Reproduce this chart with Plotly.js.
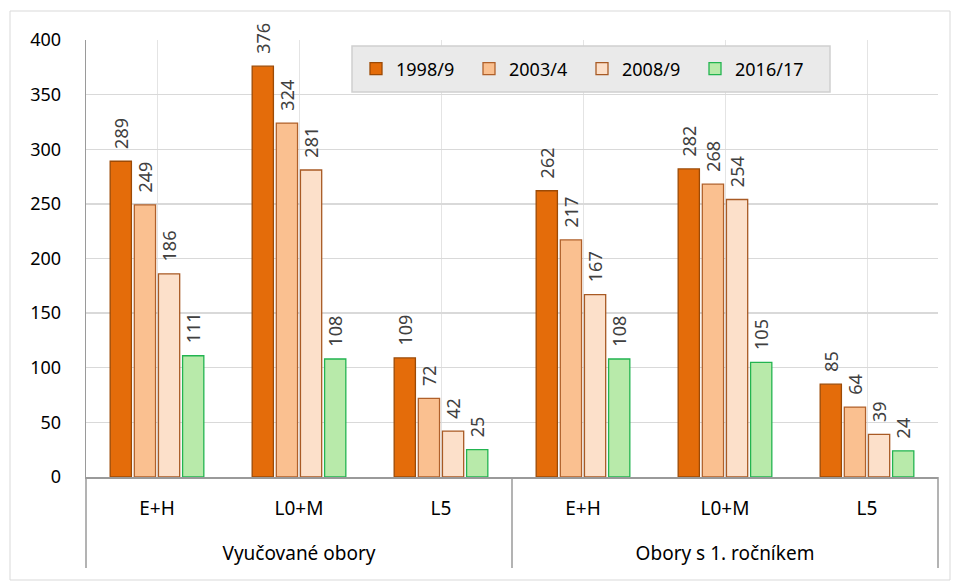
<!DOCTYPE html>
<html>
<head>
<meta charset="utf-8">
<script src="https://cdn.plot.ly/plotly-3.0.1.min.js"></script>
<style>html,body{margin:0;padding:0;background:#fff;}#chart{width:956px;height:582px;}</style>
</head>
<body>
<div id="chart"></div>
<script>
const groups = ["Vyučované obory","Obory s 1. ročníkem"];
const categories = ["E+H","L0+M","L5","E+H","L0+M","L5"];
const seriesNames = ["1998/9","2003/4","2008/9","2016/17"];
const s1998 = [289,376,109,262,282,85];
const s2003 = [249,324,72,217,268,64];
const s2008 = [186,281,42,167,254,39];
const s2016 = [111,108,25,108,105,24];
const fills = ["#E46C0A","#FAC090","#FCE0CA","#B8EAAA"];
const lines = ["#9C4A06","#B0602A","#A85A24","#22B450"];

const xpos = categories.map((c,i)=>i);
const perGroup = categories.length / groups.length;
const groupPos = groups.map((g,i)=>i*perGroup + (perGroup-1)/2);

const values = [s1998,s2003,s2008,s2016];
const traces = values.map((v,i)=>({
  type:'bar',
  name: seriesNames[i],
  x:xpos,
  y:v,
  xaxis:'x',yaxis:'y',
  text:v.map(n=>'\u00a0\u00a0'+n),
  textposition:'outside',
  textangle:-90,
  constraintext:'none',
  cliponaxis:false,
  textfont:{family:'Noto Sans, sans-serif',size:18,color:'#404040'},
  marker:{color:fills[i],line:{color:lines[i],width:1.3}}
}));
// invisible helper trace so the group-label axis is drawn
traces.push({type:'scatter',x:groupPos,y:[0,0],xaxis:'x2',yaxis:'y',
  mode:'markers',marker:{opacity:0},showlegend:false,hoverinfo:'skip'});

const L=86,R=938,T=40,B=477,BOT=568;
const px=(p)=>(p-L)/(R-L);
const py=(p)=>(BOT-p)/(BOT-T);
const d = py(B);

const dividers = [0,0.5,1].map(x=>({type:'line',xref:'paper',yref:'paper',
  x0:x,x1:x,y0:0,y1:d,line:{color:'#9A9A9A',width:1.5}}));

const layout = {
  width:956,height:582,
  margin:{l:L,r:956-R,t:T,b:582-BOT},
  paper_bgcolor:'#fff',plot_bgcolor:'#fff',
  font:{family:'Noto Sans, sans-serif',color:'#000'},
  barmode:'group',
  bargap:0.32,
  bargroupgap:0.12,
  showlegend:true,
  legend:{orientation:'h',x:px(582),xanchor:'center',y:py(69),yanchor:'middle',
    bgcolor:'rgba(0,0,0,0)',borderwidth:0,
    font:{size:18,family:'Noto Sans, sans-serif',color:'#000'},
    entrywidth:68,itemwidth:30,traceorder:'normal'},
  xaxis:{type:'linear',range:[-0.5,categories.length-0.5],anchor:'y',
    tickmode:'array',tickvals:xpos,ticktext:categories,
    showgrid:true,gridcolor:'#E4E4E4',gridwidth:1,zeroline:false,
    showline:true,linecolor:'#9A9A9A',linewidth:1.5,
    ticks:'',ticklabelstandoff:14,
    tickfont:{size:19,family:'Noto Sans, sans-serif',color:'#000'}},
  xaxis2:{type:'linear',range:[-0.5,categories.length-0.5],overlaying:'x',
    anchor:'free',position:0,side:'bottom',
    tickmode:'array',tickvals:groupPos,ticktext:groups,
    showgrid:false,zeroline:false,showline:false,ticks:'',
    ticklabelposition:'inside',ticklabelstandoff:1,
    tickfont:{size:19,family:'Noto Sans, sans-serif',color:'#000'}},
  yaxis:{domain:[d,1],range:[0,400],dtick:50,showgrid:true,gridcolor:'#D9D9D9',gridwidth:1.3,
    zeroline:false,showline:true,linecolor:'#9A9A9A',linewidth:1.3,ticks:'',
    ticklabelstandoff:20,
    tickfont:{size:18,family:'Noto Sans, sans-serif',color:'#000'}},
  shapes:[
    {type:'rect',xref:'paper',yref:'paper',
     x0:px(10),x1:px(950),y0:py(580),y1:py(11),
     line:{color:'#D9D9D9',width:1},layer:'below'},
    {type:'rect',xref:'paper',yref:'paper',
     x0:px(352),x1:px(830),y0:py(92),y1:py(46),
     fillcolor:'#EAEAEA',line:{color:'#D0D0D0',width:1.5},layer:'above'}
  ].concat(dividers)
};
Plotly.newPlot('chart',traces,layout,{displayModeBar:false,staticPlot:true});
</script>
</body>
</html>
